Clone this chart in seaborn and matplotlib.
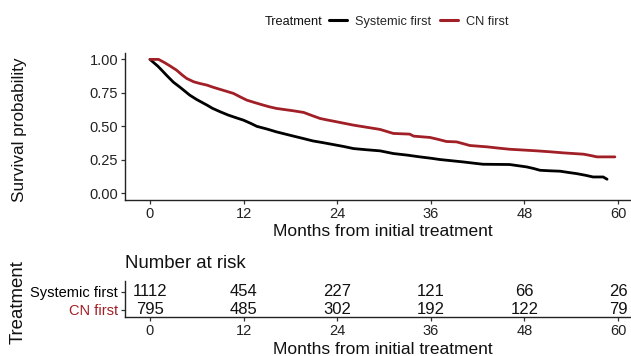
import numpy as np
import pandas as pd
import matplotlib
matplotlib.use("Agg")
import matplotlib.pyplot as plt
import seaborn as sns
from matplotlib.lines import Line2D

# ---------------- data ----------------
groups = ["Systemic first", "CN first"]
colors = {"Systemic first": "#000000", "CN first": "#A11F26"}

sys_time = [0, 0.6, 1, 1.5, 2.1, 3, 3.9, 5.1, 6, 7.3, 8, 9, 10, 11, 12, 13, 13.7, 15, 16.2,
            17.3, 18.4, 19.6, 20.9, 22.2, 23.5, 24.8, 26.1, 27.8, 29.5, 31.2, 33, 34.6, 36,
            37.2, 38.7, 40.2, 41.5, 42.7, 44.4, 46.1, 47.2, 48.3, 49.2, 50, 51.3, 52.6, 53.6,
            54.7, 55.8, 56.8, 58.1, 58.6]
sys_surv = [1, 0.97, 0.95, 0.92, 0.883, 0.83, 0.79, 0.733, 0.70, 0.659, 0.635, 0.609, 0.585,
            0.565, 0.546, 0.52, 0.50, 0.48, 0.459, 0.443, 0.427, 0.41, 0.391, 0.378, 0.364,
            0.35, 0.334, 0.325, 0.317, 0.297, 0.285, 0.272, 0.262, 0.252, 0.243, 0.234, 0.225,
            0.217, 0.216, 0.215, 0.206, 0.197, 0.185, 0.172, 0.168, 0.165, 0.156, 0.147, 0.135,
            0.122, 0.122, 0.105]

cn_time = [0, 1.1, 1.9, 2.6, 3.4, 4.1, 4.7, 5.6, 6.4, 7.3, 8.1, 9, 9.8, 10.7, 11.5, 12.4, 13.4,
           14.5, 15.3, 16.2, 17.3, 18.4, 19.7, 20.8, 21.8, 22.6, 23.5, 24.8, 26.1, 27.8, 29.5,
           31.2, 33.3, 33.8, 35.9, 37, 38, 39.3, 40.2, 41, 43.2, 44.6, 46.1, 47.9, 49.6, 51.3,
           53, 54.3, 55.6, 56.5, 57.3, 59.6]
cn_surv = [1, 1, 0.975, 0.95, 0.92, 0.885, 0.858, 0.833, 0.82, 0.808, 0.792, 0.776, 0.762,
           0.746, 0.722, 0.696, 0.678, 0.659, 0.646, 0.634, 0.625, 0.616, 0.604, 0.58, 0.559,
           0.549, 0.539, 0.524, 0.509, 0.493, 0.477, 0.447, 0.442, 0.427, 0.417, 0.402, 0.387,
           0.384, 0.37, 0.357, 0.347, 0.338, 0.329, 0.323, 0.317, 0.31, 0.302, 0.297, 0.292,
           0.282, 0.272, 0.272]

risk_times = [0, 12, 24, 36, 48, 60]
risk_sys = [1112, 454, 227, 121, 66, 26]
risk_cn = [795, 485, 302, 192, 122, 79]

x_ticks = [0, 12, 24, 36, 48, 60]
y_ticks = [0.00, 0.25, 0.50, 0.75, 1.00]

# ---------------- style ----------------
sns.set_theme(style="white")
plt.rcParams["font.family"] = ["Liberation Sans", "DejaVu Sans"]
plt.rcParams["axes.edgecolor"] = "#222222"
plt.rcParams["axes.linewidth"] = 1.0

df = pd.concat([
    pd.DataFrame({"time": sys_time, "surv": sys_surv, "Treatment": "Systemic first"}),
    pd.DataFrame({"time": cn_time, "surv": cn_surv, "Treatment": "CN first"}),
], ignore_index=True)

W, H = 631, 356
fig = plt.figure(figsize=(W / 100, H / 100), dpi=100)
fig.patch.set_facecolor("white")

left = 125 / W
width = (W - 125) / W
ax = fig.add_axes([left, 1 - 200 / H, width, (200 - 52.7) / H])
axr = fig.add_axes([left, 1 - 317 / H, width, 36 / H])

xlim = (-3.2, (W - 150) / 7.8)

sns.lineplot(data=df, x="time", y="surv", hue="Treatment", hue_order=groups,
             palette=colors, linewidth=2.0, ax=ax, legend=False, estimator=None)
ax.set_xlim(*xlim)
ax.set_ylim(-0.05, 1.05)
ax.set_xticks(x_ticks)
ax.set_yticks(y_ticks)
ax.set_yticklabels([f"{v:.2f}" for v in y_ticks])
for s in ["top", "right"]:
    ax.spines[s].set_visible(False)
ax.tick_params(axis="both", which="major", length=3.8 / 1.389, width=0.9,
               color="#333333", labelsize=10.5, pad=2.3, labelcolor="#222222",
               bottom=True, left=True)
ax.set_xlabel("Months from initial treatment", fontsize=12.5, color="#111111", va="center")
ax.xaxis.set_label_coords((383 - 125) / (W - 125), (200 - 232) / 147.3)
ax.set_ylabel("Survival probability", fontsize=12.3, color="#111111", va="center")
ax.yaxis.set_label_coords((20 - 125) / (W - 125), 0.48)

# ---------------- risk table ----------------
row_y = {"Systemic first": 1, "CN first": 0}
for t, n in zip(risk_times, risk_sys):
    axr.text(t, row_y["Systemic first"], str(n), ha="center", va="center",
             fontsize=12, color="#111111")
for t, n in zip(risk_times, risk_cn):
    axr.text(t, row_y["CN first"], str(n), ha="center", va="center",
             fontsize=12, color="#111111")
axr.set_xlim(*xlim)
axr.set_ylim(-0.42, 1.6)
axr.set_xticks(x_ticks)
axr.set_yticks([row_y[g] for g in groups])
axr.set_yticklabels(groups)
for lab, g in zip(axr.get_yticklabels(), groups):
    lab.set_color(colors[g])
for s in ["top", "right"]:
    axr.spines[s].set_visible(False)
axr.tick_params(axis="both", which="major", length=3.8 / 1.389, width=0.9,
                color="#333333", labelsize=10.5, pad=2.3, bottom=True, left=True)
for lab in axr.get_xticklabels():
    lab.set_color("#222222")
axr.set_xlabel("Months from initial treatment", fontsize=12.5, color="#111111", va="center")
axr.xaxis.set_label_coords((383 - 125) / (W - 125), (317 - 350) / 36)
axr.set_ylabel("Treatment", fontsize=13.4, color="#111111", va="center")
axr.yaxis.set_label_coords((18 - 125) / (W - 125), 0.42)
axr.set_title("Number at risk", loc="left", fontsize=13.4, color="#111111", pad=9)

# ---------------- legend ----------------
fig.text(265 / W, 1 - 21.7 / H, "Treatment", fontsize=9.2, ha="left", va="center",
         color="#111111")
handles = [Line2D([], [], color=colors[g], linewidth=2.2) for g in groups]
fig.legend(handles, groups, loc="center left", bbox_to_anchor=(329 / W, 1 - 21.7 / H),
           ncol=2, frameon=False, fontsize=9.2, handlelength=1.4, handletextpad=0.65,
           columnspacing=0.7, borderpad=0, borderaxespad=0)

fig.savefig("out.png", dpi=100, facecolor="white")
